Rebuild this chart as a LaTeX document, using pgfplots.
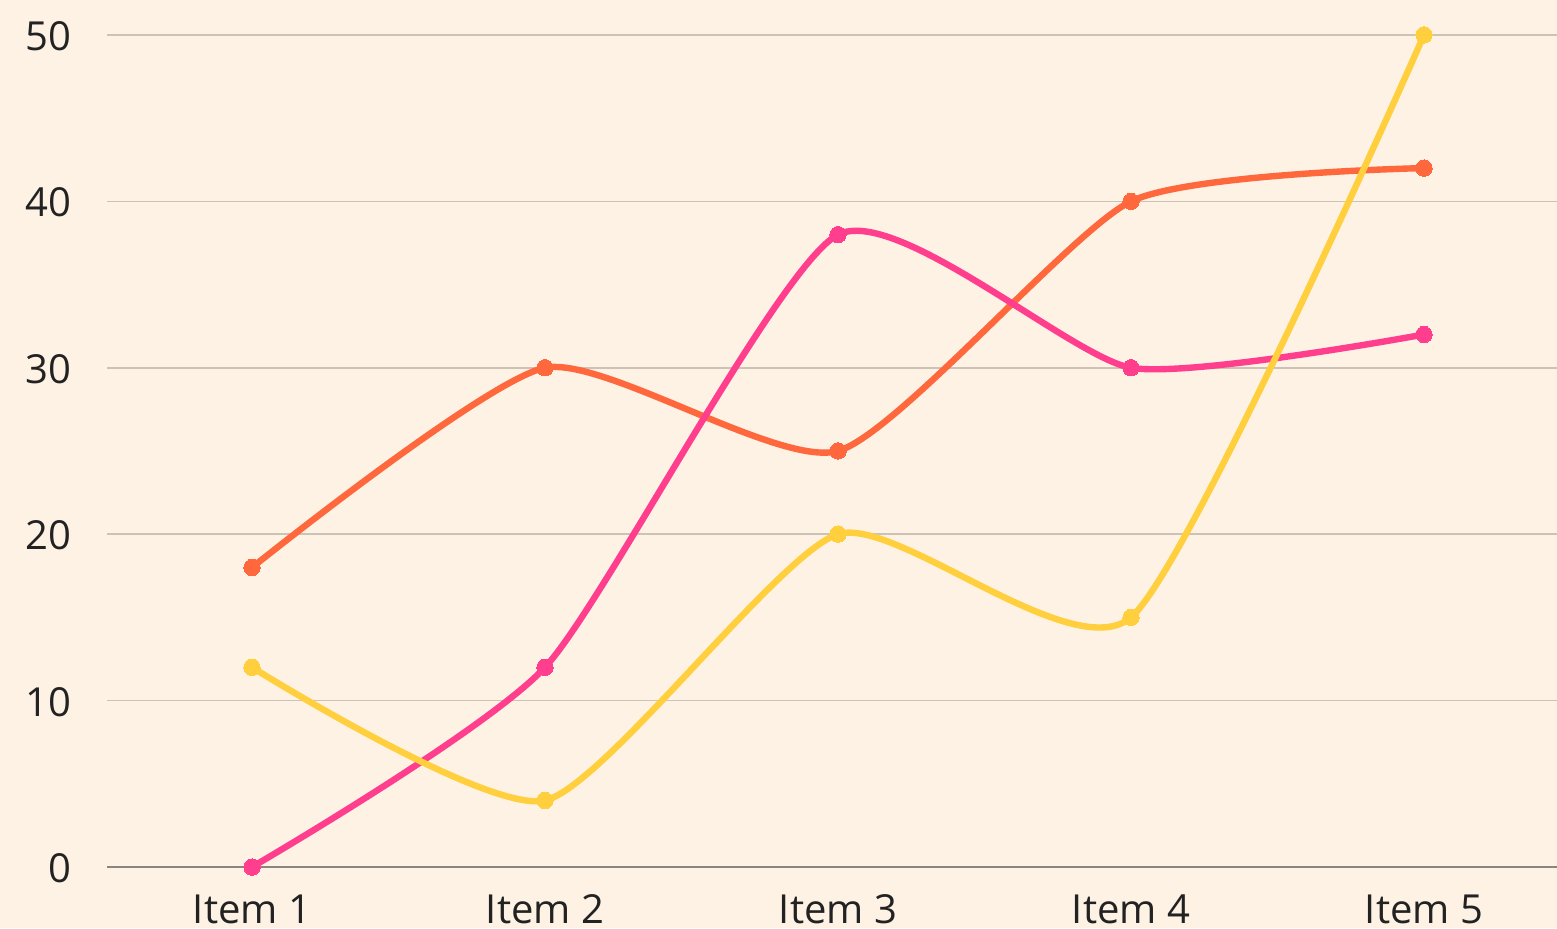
\documentclass[border=0pt]{standalone}
\usepackage{pgfplots}
\pgfplotsset{compat=1.18}
\usepackage{fontspec}
\setmainfont{Open Sans}
\definecolor{bgcol}{HTML}{FEF2E4}
\definecolor{cOrange}{HTML}{FF673D}
\definecolor{cPink}{HTML}{FF3F8E}
\definecolor{cYellow}{HTML}{FFCF3D}
\definecolor{gridc}{HTML}{CDC2B6}
\definecolor{axisc}{HTML}{8A8580}
\definecolor{txt}{HTML}{222222}
\begin{document}
\begin{tikzpicture}[x=1pt,y=1pt]
\fill[bgcol] (0,0) rectangle (778.5,464);
\begin{axis}[
  at={(53.5pt,30.5pt)},
  scale only axis,
  width=725pt, height=433.5pt,
  xmin=0.5051, xmax=5.454,
  ymin=0, ymax=52.1,
  clip=false,
  axis line style={draw=none},
  major tick length=0pt,
  xtick={1,2,3,4,5},
  xticklabels={Item 1,Item 2,Item 3,Item 4,Item 5},
  ytick={10,20,30,40,50},
  extra y ticks={0},
  extra y tick labels={0},
  extra y tick style={major grid style={draw=axisc,line width=1pt}},
  ymajorgrids,
  major grid style={draw=gridc,line width=0.75pt},
  /pgf/number format/assume math mode=true,
  tick label style={font=\fontsize{20}{24}\selectfont, text=txt, inner sep=0pt},
  xticklabel style={anchor=base, yshift=-28pt},
  yticklabel style={anchor=base east, xshift=-17.5pt, yshift=-7.8pt},
  every axis plot/.append style={line width=3.2pt, smooth, tension=0.36, mark=*, mark size=4.1pt, mark options={solid, line width=0pt}},
]
\addplot[color=cOrange] coordinates {(1,18) (2,30) (3,25) (4,40) (5,42)};
\addplot[color=cPink] coordinates {(1,0) (2,12) (3,38) (4,30) (5,32)};
\addplot[color=cYellow] coordinates {(1,12) (2,4) (3,20) (4,15) (5,50)};
\end{axis}
\pgfresetboundingbox
\useasboundingbox (0,0) rectangle (778.5,464);
\end{tikzpicture}
\end{document}
